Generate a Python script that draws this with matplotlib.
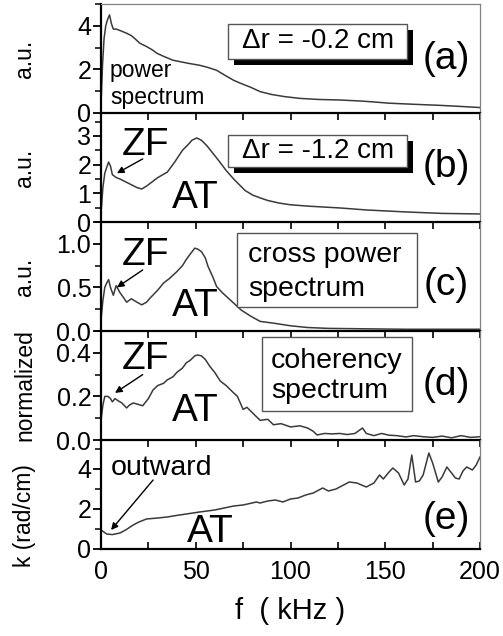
import matplotlib
matplotlib.use("Agg")
import matplotlib.pyplot as plt
from matplotlib.patches import Rectangle
from matplotlib.ticker import MultipleLocator

plt.rcParams['font.family'] = ['Liberation Sans', 'DejaVu Sans']

# ---------------- data ----------------
f_a = [0, 0.8, 1.6, 2.5, 3.5, 4.5, 5.5, 6.5, 8, 9.5, 11, 13.5, 16, 18, 20.5, 24, 27, 29.5,
       33, 38, 42, 46, 52, 56, 61, 65, 70, 74, 79, 84, 90, 97, 105, 115, 125, 137, 145,
       152, 165, 179, 190, 200]
power_a = [0.4, 2.2, 3.4, 4.0, 4.3, 4.5, 4.1, 3.85, 3.85, 3.8, 3.75, 3.66, 3.55, 3.4, 3.2,
           3.05, 2.9, 2.74, 2.6, 2.42, 2.35, 2.28, 2.19, 2.1, 1.96, 1.75, 1.5, 1.35, 1.18,
           0.98, 0.85, 0.75, 0.67, 0.62, 0.6, 0.55, 0.5, 0.45, 0.4, 0.35, 0.3, 0.25]

f_b = [0, 1, 2, 3, 4, 5, 6, 8, 10, 13, 16, 19, 21.5, 24, 27, 30, 35, 39, 43, 46, 48, 50.5,
       53, 56, 59, 62, 66, 70, 73, 76, 80, 84, 88, 94, 100, 110, 126, 140, 161, 180, 200]
power_b = [0.3, 1.2, 1.7, 1.9, 2.09, 1.95, 1.65, 1.55, 1.5, 1.4, 1.3, 1.2, 1.15, 1.25, 1.4,
           1.55, 1.74, 2.1, 2.5, 2.7, 2.85, 2.93, 2.85, 2.65, 2.4, 2.15, 1.8, 1.5, 1.3, 1.1,
           0.94, 0.84, 0.75, 0.66, 0.6, 0.55, 0.49, 0.42, 0.35, 0.3, 0.28]

f_c = [0, 1, 2, 3, 4, 5, 6.5, 8, 10, 12, 13.5, 16, 19, 21.5, 24, 26, 30, 33, 36, 40, 43, 45,
       47, 49.5, 51, 53, 55, 56.5, 59, 61, 64, 67, 70, 74, 79, 84, 91, 100, 109, 120, 140,
       160, 180, 200]
cross_c = [0.13, 0.35, 0.5, 0.55, 0.59, 0.5, 0.41, 0.52, 0.44, 0.38, 0.33, 0.37, 0.33, 0.3,
           0.33, 0.38, 0.47, 0.55, 0.6, 0.68, 0.75, 0.82, 0.88, 0.95, 0.94, 0.91, 0.84, 0.74,
           0.62, 0.51, 0.44, 0.38, 0.32, 0.24, 0.17, 0.11, 0.09, 0.06, 0.04, 0.03, 0.025,
           0.02, 0.02, 0.02]

f_d = [0, 1, 2, 3.7, 5, 6, 7.4, 9, 11, 13.5, 15, 17, 19, 22, 25, 27.5, 30, 33, 35, 38, 40,
       43, 45, 47, 49.5, 51, 53, 55, 57.5, 60, 63, 66, 70, 72, 75, 77, 80, 84, 88, 91, 95,
       100, 105, 109, 112, 114, 118, 122, 126, 130, 134, 138, 140, 144, 148, 152, 156, 161,
       165, 170, 175, 180, 185, 190, 195, 200]
coh_d = [0.09, 0.16, 0.2, 0.2, 0.19, 0.175, 0.19, 0.18, 0.17, 0.147, 0.16, 0.17, 0.165, 0.157,
         0.19, 0.23, 0.25, 0.26, 0.276, 0.29, 0.31, 0.33, 0.354, 0.365, 0.386, 0.39, 0.386,
         0.37, 0.337, 0.31, 0.27, 0.25, 0.216, 0.2, 0.14, 0.15, 0.124, 0.09, 0.095, 0.07,
         0.075, 0.06, 0.065, 0.055, 0.04, 0.023, 0.03, 0.028, 0.03, 0.025, 0.03, 0.055, 0.03,
         0.02, 0.03, 0.022, 0.02, 0.014, 0.02, 0.015, 0.012, 0.018, 0.01, 0.02, 0.012, 0.015]

f_e = [0, 3, 6, 10, 13, 17, 20, 24, 30, 35, 40, 45, 52, 56, 60, 65, 70, 75, 82, 84, 88, 92,
       96, 100, 104, 108, 112, 117, 120, 124, 128, 131, 135, 140, 144, 147, 149, 152, 154,
       157, 160, 162, 164, 166, 168, 170, 173, 175, 178, 180, 182.5, 185, 187, 189, 191,
       193, 196, 198, 200]
k_e = [0.95, 0.75, 0.72, 0.8, 0.95, 1.2, 1.35, 1.5, 1.55, 1.6, 1.68, 1.75, 1.85, 1.9, 1.95,
       2.05, 2.15, 2.2, 2.35, 2.3, 2.4, 2.45, 2.35, 2.5, 2.55, 2.7, 2.8, 3.05, 2.9, 3.0, 3.2,
       3.35, 3.3, 3.1, 3.3, 3.7, 3.5, 3.85, 4.05, 3.8, 3.2, 3.5, 4.7, 3.35, 3.4, 3.7, 4.8,
       4.3, 3.35, 3.6, 4.1, 3.8, 3.55, 3.5, 3.9, 4.1, 3.95, 4.2, 4.6]

series = [(f_a, power_a), (f_b, power_b), (f_c, cross_c), (f_d, coh_d), (f_e, k_e)]
ylims = [5.0, 3.8, 1.25, 0.5, 5.45]
ymajor = [2, 1, 0.5, 0.2, 2]
yminor = [1, 0.5, 0.25, 0.1, 1]
ylabels = ["a.u.", "a.u.", "a.u.", "normalized", "k (rad/cm)"]
panel_tags = ["(a)", "(b)", "(c)", "(d)", "(e)"]
x_ticks = [0, 50, 100, 150, 200]

# ---------------- layout ----------------
W, H = 503, 636
fig = plt.figure(figsize=(W / 100, H / 100), dpi=100)
L, R = 101, 480
tops = [4, 113, 222, 331, 440]
PH = 109

axes = []
for i, top in enumerate(tops):
    ax = fig.add_axes([L / W, 1 - (top + PH) / H, (R - L) / W, PH / H])
    axes.append(ax)

def px2ax(ax_i, x, y):
    return (x - L) / (R - L), (tops[ax_i] + PH - y) / PH

for i, ax in enumerate(axes):
    fx, fy = series[i]
    ax.plot(fx, fy, color="#3a3a3a", lw=1.1)
    ax.set_xlim(0, 200)
    ax.set_ylim(0, ylims[i])
    ax.yaxis.set_major_locator(MultipleLocator(ymajor[i]))
    ax.yaxis.set_minor_locator(MultipleLocator(yminor[i]))
    ax.set_xticks(x_ticks)
    ax.xaxis.set_minor_locator(MultipleLocator(25))
    ax.tick_params(axis='y', which='major', direction='out', length=6, width=1.3,
                   labelsize=18, pad=1)
    ax.tick_params(axis='y', which='minor', direction='out', length=4, width=1.1)
    last = (i == len(axes) - 1)
    ax.tick_params(axis='x', which='both', direction='in', length=5, width=1.2,
                   top=(i > 0), bottom=last, labelbottom=last, labeltop=False,
                   labelsize=18, pad=8)
    for s in ('left', 'bottom'):
        ax.spines[s].set_linewidth(1.6)
        ax.spines[s].set_color('black')
    for s in ('top', 'right'):
        ax.spines[s].set_linewidth(0.9)
        ax.spines[s].set_color('#808080')
    if i > 0:
        ax.spines['top'].set_visible(False)
    ax.patch.set_alpha(0)
    # y labels
    ycen = 0.5 if i < 4 else 0.31
    ax.text(-(L - 25) / (R - L), ycen, ylabels[i], transform=ax.transAxes,
            rotation=90, ha='center', va='center', fontsize=16.5)
    # panel tags
    tx, ty = [(446, 59), (446, 167), (446, 285), (446, 385), (446, 519)][i]
    ax.text(*px2ax(i, tx, ty), panel_tags[i], transform=ax.transAxes,
            ha='center', va='center', fontsize=28)

axes[-1].set_xlabel("f  ( kHz )", fontsize=21, labelpad=9)

# shadowed Δr boxes
def shadow_box(i, x0, y0, x1, y1, text, tcx):
    ax = axes[i]
    a0 = px2ax(i, x0 + 6, y1 + 6)
    a1 = px2ax(i, x1 + 6, y0 + 6)
    ax.add_patch(Rectangle(a0, a1[0] - a0[0], a1[1] - a0[1], transform=ax.transAxes,
                           facecolor='black', edgecolor='black', lw=0, zorder=4))
    b0 = px2ax(i, x0, y1)
    b1 = px2ax(i, x1, y0)
    ax.add_patch(Rectangle(b0, b1[0] - b0[0], b1[1] - b0[1], transform=ax.transAxes,
                           facecolor='white', edgecolor='#555555', lw=1.0, zorder=5))
    ax.text(*px2ax(i, tcx, (y0 + y1) / 2), text, transform=ax.transAxes,
            ha='center', va='center', fontsize=20, zorder=6)

shadow_box(0, 228, 24, 407, 59, "\u0394r = -0.2 cm", 318)
shadow_box(1, 228, 135, 407, 167, "\u0394r = -1.2 cm", 318)

def plain_box(i, x0, y0, x1, y1, lines, tx, ty_list):
    ax = axes[i]
    b0 = px2ax(i, x0, y1)
    b1 = px2ax(i, x1, y0)
    ax.add_patch(Rectangle(b0, b1[0] - b0[0], b1[1] - b0[1], transform=ax.transAxes,
                           facecolor='white', edgecolor='#555555', lw=1.0, zorder=5))
    for line, ty in zip(lines, ty_list):
        ax.text(*px2ax(i, tx, ty), line, transform=ax.transAxes,
                ha='left', va='center', fontsize=20.5, zorder=6)

plain_box(2, 237, 233, 417, 307, ["cross power", "spectrum"], 248, [255, 289])
plain_box(3, 262, 337, 412, 411, ["coherency", "spectrum"], 271, [361, 391])

# annotations
axes[0].text(4.7, 1.34, "power\nspectrum", fontsize=16.5, ha='left', va='center')

arrowprops = dict(arrowstyle='-|>', color='black', lw=1.0, mutation_scale=10,
                  shrinkA=0, shrinkB=0)
axes[1].annotate("", xy=(8.4, 1.7), xytext=(22, 2.2), arrowprops=arrowprops)
axes[1].text(23.5, 2.68, "ZF", fontsize=28, ha='center', va='center')
axes[1].text(50, 0.84, "AT", fontsize=28, ha='center', va='center')

axes[2].annotate("", xy=(8.4, 0.5), xytext=(22, 0.70), arrowprops=arrowprops)
axes[2].text(23.5, 0.87, "ZF", fontsize=28, ha='center', va='center')
axes[2].text(50, 0.29, "AT", fontsize=28, ha='center', va='center')

axes[3].annotate("", xy=(7.4, 0.216), xytext=(22, 0.30), arrowprops=arrowprops)
axes[3].text(23.5, 0.37, "ZF", fontsize=28, ha='center', va='center')
axes[3].text(50, 0.133, "AT", fontsize=28, ha='center', va='center')

axes[4].annotate("", xy=(5.3, 0.95), xytext=(27.5, 3.45), arrowprops=arrowprops)
axes[4].text(31.7, 4.05, "outward", fontsize=20.5, ha='center', va='center')
axes[4].text(57.5, 0.85, "AT", fontsize=28, ha='center', va='center')

fig.savefig("out.png", dpi=100)
